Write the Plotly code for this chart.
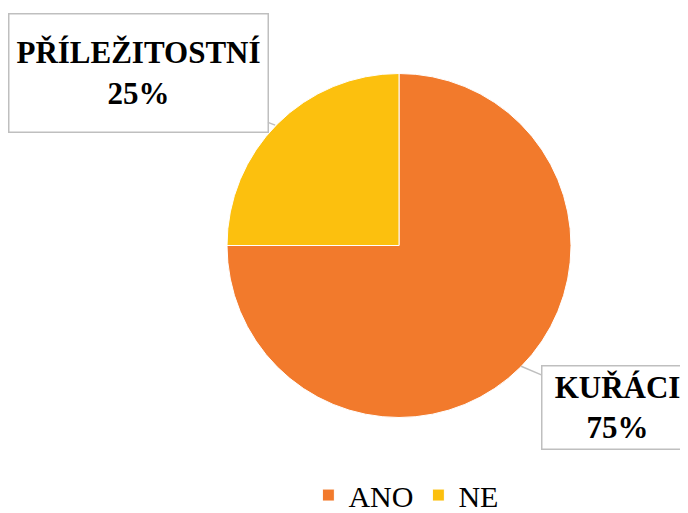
import plotly.graph_objects as go

# data
categories = ["ANO", "NE"]
values = [75, 25]
slice_names = ["KUŘÁCI", "PŘÍLEŽITOSTNÍ"]
colors = ["#F27A2C", "#FCC00E"]

font_family = "Times New Roman, serif"
total = sum(values)

fig = go.Figure()
fig.add_trace(go.Pie(labels=categories,
                     values=values,
                     sort=False,
                     direction="clockwise",
                     rotation=0,
                     textinfo="none",
                     hoverinfo="skip",
                     marker=dict(colors=colors, line=dict(color="white", width=1)),
                     domain=dict(x=[0, 1], y=[0, 1]),
                     ))

# label boxes with leader lines (arrow point on the pie edge, box at the tail)
box_specs = {
    "ANO": dict(x=0.855, y=0.15, ax=96, ay=41, width=146, height=78),
    "NE": dict(x=0.14, y=0.849, ax=-137, ay=-52, width=254, height=113),
}
for cat, val, name in zip(categories, values, slice_names):
    spec = box_specs[cat]
    fig.add_annotation(x=spec["x"], y=spec["y"], xref="paper", yref="paper",
                       ax=spec["ax"], ay=spec["ay"],
                       text=f"<b>{name}<br>{round(val / total * 100)}%</b>",
                       showarrow=True, arrowhead=0, arrowwidth=1.5, arrowcolor="#BFBFBF",
                       width=spec["width"], height=spec["height"],
                       bgcolor="white", bordercolor="#BFBFBF", borderwidth=1.5, borderpad=2,
                       font=dict(family=font_family, size=31, color="black"),
                       align="center", valign="middle",
                       )

fig.update_layout(width=688, height=513,
                  margin=dict(l=219, r=125, t=65, b=103, autoexpand=False),
                  paper_bgcolor="white",
                  plot_bgcolor="white",
                  showlegend=True,
                  legend=dict(orientation="h", x=0.52, xanchor="center", y=-0.148, yanchor="top",
                              font=dict(family=font_family, size=30, color="black"),
                              itemwidth=30, traceorder="normal"),
                  )

fig.write_html("out.html")
